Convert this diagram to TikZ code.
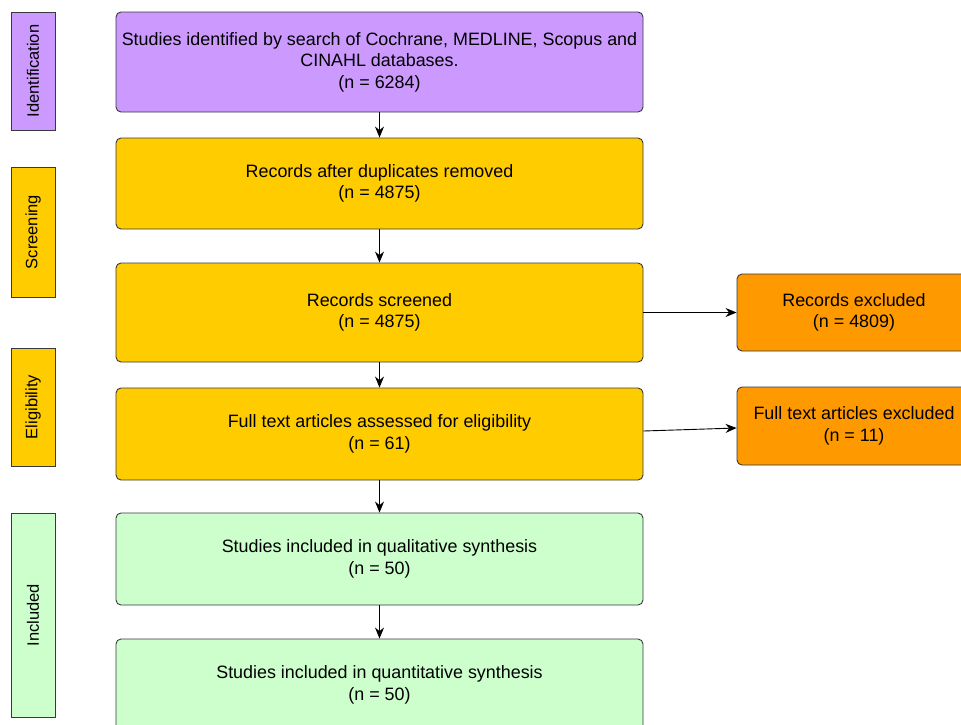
\documentclass[tikz,border=0pt]{standalone}
\usepackage{fontspec}
\setmainfont{Liberation Sans}
\usetikzlibrary{positioning, arrows.meta}

\definecolor{idpurple}{HTML}{CC99FF}
\definecolor{scryellow}{HTML}{FFCC00}
\definecolor{exorange}{HTML}{FF9900}
\definecolor{incgreen}{HTML}{CCFFCC}
\definecolor{boxline}{HTML}{36393D}

\begin{document}
\begin{tikzpicture}[x=1pt,y=-1pt,node distance=125pt,on grid,
    box/.style={draw=boxline, line width=0.9pt, rounded corners=5pt,
      minimum width=527pt, align=center, inner xsep=2pt,
      font=\fontsize{17.9}{21.5}\selectfont},
    exbox/.style={box, fill=exorange, minimum width=234pt},
    phase/.style={draw=boxline, line width=0.9pt, rotate=90,
      minimum height=44pt, font=\fontsize{16.5}{20}\selectfont},
    flow/.style={-{Stealth[length=11pt,width=9pt]}, line width=0.9pt}]
  \useasboundingbox (0,0) rectangle (961,724);

  % main column
  \node[box, fill=idpurple, minimum height=100pt] (ident) at (379.5,62)
    {Studies identified by search of Cochrane, MEDLINE, Scopus and\\CINAHL databases.\\(n = 6284)};
  \node[box, fill=scryellow, minimum height=91pt] (dupl) [below=121.5pt of ident]
    {Records after duplicates removed\\(n = 4875)};
  \node[box, fill=scryellow, minimum height=99pt] (screened) [below=129pt of dupl]
    {Records screened\\(n = 4875)};
  \node[box, fill=scryellow, minimum height=92pt] (fulltext) [below=121.5pt of screened]
    {Full text articles assessed for eligibility\\(n = 61)};
  \node[box, fill=incgreen, minimum height=92pt] (qual) [below=125pt of fulltext]
    {Studies included in qualitative synthesis\\(n = 50)};
  \node[box, fill=incgreen, minimum height=92pt] (quant) [below=126pt of qual]
    {Studies included in quantitative synthesis\\(n = 50)};

  % exclusions
  \node[exbox, minimum height=77pt] (recex) [right=474.5pt of screened] {Records excluded\\(n = 4809)};
  \node[exbox, minimum height=78pt] (fullex) [below=113.5pt of recex] {Full text articles excluded\\(n = 11)};

  % phases
  \node[phase, fill=idpurple, minimum width=118pt] (pident) at (33,71) {Identification};
  \node[phase, fill=scryellow, minimum width=130pt] (pscreen) at (33,232) {Screening};
  \node[phase, fill=scryellow, minimum width=118pt] (pelig) at (33,407) {Eligibility};
  \node[phase, fill=incgreen, minimum width=204pt] (pincl) at (33,615) {Included};

  \draw[flow] (ident) -- (dupl);
  \draw[flow] (dupl) -- (screened);
  \draw[flow] (screened) -- (fulltext);
  \draw[flow] (fulltext) -- (qual);
  \draw[flow] (qual) -- (quant);
  \draw[flow] (screened.east) -- (recex.west);
  \draw[flow] ([yshift=3pt]fulltext.east) -- ([yshift=-2pt]fullex.west);
\end{tikzpicture}
\end{document}
